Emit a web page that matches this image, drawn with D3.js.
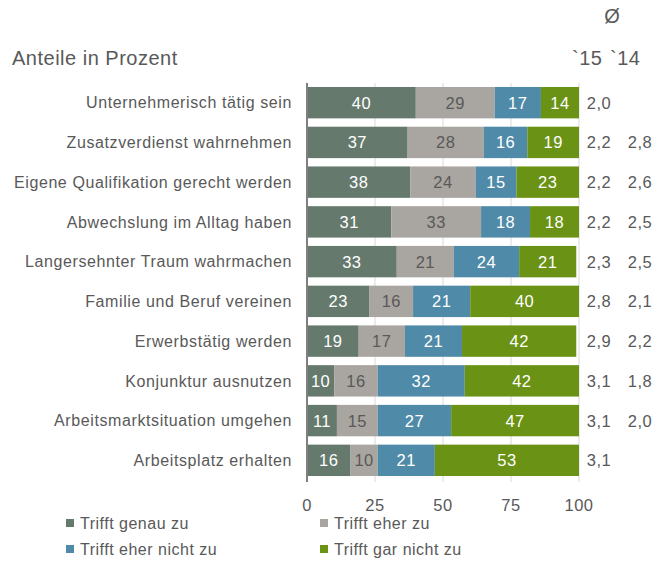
<!DOCTYPE html>
<html><head><meta charset="utf-8">
<script src="https://cdn.jsdelivr.net/npm/d3@7"></script>
<style>body{margin:0;background:#fff}svg{display:block;font-family:"Liberation Sans",Arial,sans-serif}</style>
</head><body><svg id="c" width="665" height="563"></svg>
<script>
const categories = ["Unternehmerisch tätig sein","Zusatzverdienst wahrnehmen","Eigene Qualifikation gerecht werden","Abwechslung im Alltag haben","Langersehnter Traum wahrmachen","Familie und Beruf vereinen","Erwerbstätig werden","Konjunktur ausnutzen","Arbeitsmarktsituation umgehen","Arbeitsplatz erhalten"];
const seriesNames = ["Trifft genau zu","Trifft eher zu","Trifft eher nicht zu","Trifft gar nicht zu"];
const genau = [40,37,38,31,33,23,19,10,11,16];
const eher = [29,28,24,33,21,16,17,16,15,10];
const eherNicht = [17,16,15,18,24,21,21,32,27,21];
const garNicht = [14,19,23,18,21,40,42,42,47,53];
const avg15 = ["2,0","2,2","2,2","2,2","2,3","2,8","2,9","3,1","3,1","3,1"];
const avg14 = ["","2,8","2,6","2,5","2,5","2,1","2,2","1,8","2,0",""];
const xTicks = [0,25,50,75,100];
const colors = ["#65796d","#a9a5a0","#4f8aa9","#6a9214"];
const labelColors = ["#fff","#595959","#fff","#fff"];

const svg = d3.select("#c");
const txt = "#595959";
const ls = "0.5px";
const x = d3.scaleLinear().domain([0,100]).range([307,579]);
const y = d3.scaleBand().domain(categories).range([83,480]).paddingInner(0.21).paddingOuter(0.1);

// gridlines
svg.append("g").selectAll("line").data(xTicks.slice(1)).join("line")
  .attr("x1",d=>x(d)).attr("x2",d=>x(d)).attr("y1",83).attr("y2",482)
  .attr("stroke","#d9d9d9").attr("stroke-width",1);

const data = categories.map((c,i)=>({cat:c,v:[genau[i],eher[i],eherNicht[i],garNicht[i]]}));
const stack = d3.stack().keys([0,1,2,3]).value((d,k)=>d.v[k]);
const layers = stack(data);

layers.forEach((layer,k)=>{
  const g = svg.append("g");
  g.selectAll("rect").data(layer).join("rect")
    .attr("x",d=>x(d[0])).attr("width",d=>x(d[1])-x(d[0]))
    .attr("y",d=>y(d.data.cat)).attr("height",y.bandwidth())
    .attr("fill",colors[k]);
  g.selectAll("text").data(layer).join("text")
    .attr("x",d=>(x(d[0])+x(d[1]))/2).attr("y",d=>y(d.data.cat)+y.bandwidth()/2)
    .attr("dy","0.36em").attr("text-anchor","middle")
    .attr("font-size",16.5).attr("letter-spacing",ls).attr("fill",labelColors[k])
    .text(d=>d.data.v[k]);
});

// axis line
svg.append("line").attr("x1",x(0)).attr("x2",x(0)).attr("y1",83).attr("y2",482)
  .attr("stroke","#7f7f7f").attr("stroke-width",2);

// category labels
svg.append("g").selectAll("text").data(categories).join("text")
  .attr("x",292).attr("y",d=>y(d)+y.bandwidth()/2).attr("dy","0.36em")
  .attr("text-anchor","end").attr("font-size",16).attr("letter-spacing","0.6px").attr("fill",txt).text(d=>d);

// x tick labels
svg.append("g").selectAll("text").data(xTicks).join("text")
  .attr("x",d=>x(d)).attr("y",505).attr("dy","0.36em").attr("text-anchor","middle")
  .attr("font-size",16.5).attr("letter-spacing",ls).attr("fill",txt).text(d=>d);

// averages
svg.append("g").selectAll("text").data(avg15).join("text")
  .attr("x",599).attr("y",(d,i)=>y(categories[i])+y.bandwidth()/2).attr("dy","0.36em")
  .attr("text-anchor","middle").attr("font-size",16.5).attr("letter-spacing",ls).attr("fill",txt).text(d=>d);
svg.append("g").selectAll("text").data(avg14).join("text")
  .attr("x",640).attr("y",(d,i)=>y(categories[i])+y.bandwidth()/2).attr("dy","0.36em")
  .attr("text-anchor","middle").attr("font-size",16.5).attr("letter-spacing",ls).attr("fill",txt).text(d=>d);

// headers
svg.append("text").attr("x",12).attr("y",65).attr("font-size",20).attr("letter-spacing",ls).attr("fill",txt).text("Anteile in Prozent");
svg.append("text").attr("x",612).attr("y",23).attr("text-anchor","middle").attr("font-size",20).attr("fill",txt).text("Ø");
svg.append("text").attr("x",572).attr("y",65).attr("font-size",20).attr("letter-spacing",ls).attr("fill",txt).text("`15");
svg.append("text").attr("x",610).attr("y",65).attr("font-size",20).attr("letter-spacing",ls).attr("fill",txt).text("`14");

// legend
const legPos = [[66,523],[320,523],[66,549],[320,549]];
const lg = svg.append("g").selectAll("g").data(seriesNames).join("g")
  .attr("transform",(d,i)=>`translate(${legPos[i][0]},${legPos[i][1]})`);
lg.append("rect").attr("x",0).attr("y",-4).attr("width",8).attr("height",8).attr("fill",(d,i)=>colors[i]);
lg.append("text").attr("x",14).attr("y",0).attr("dy","0.36em").attr("font-size",16).attr("letter-spacing",ls).attr("fill",txt).text(d=>d);
</script></body></html>
